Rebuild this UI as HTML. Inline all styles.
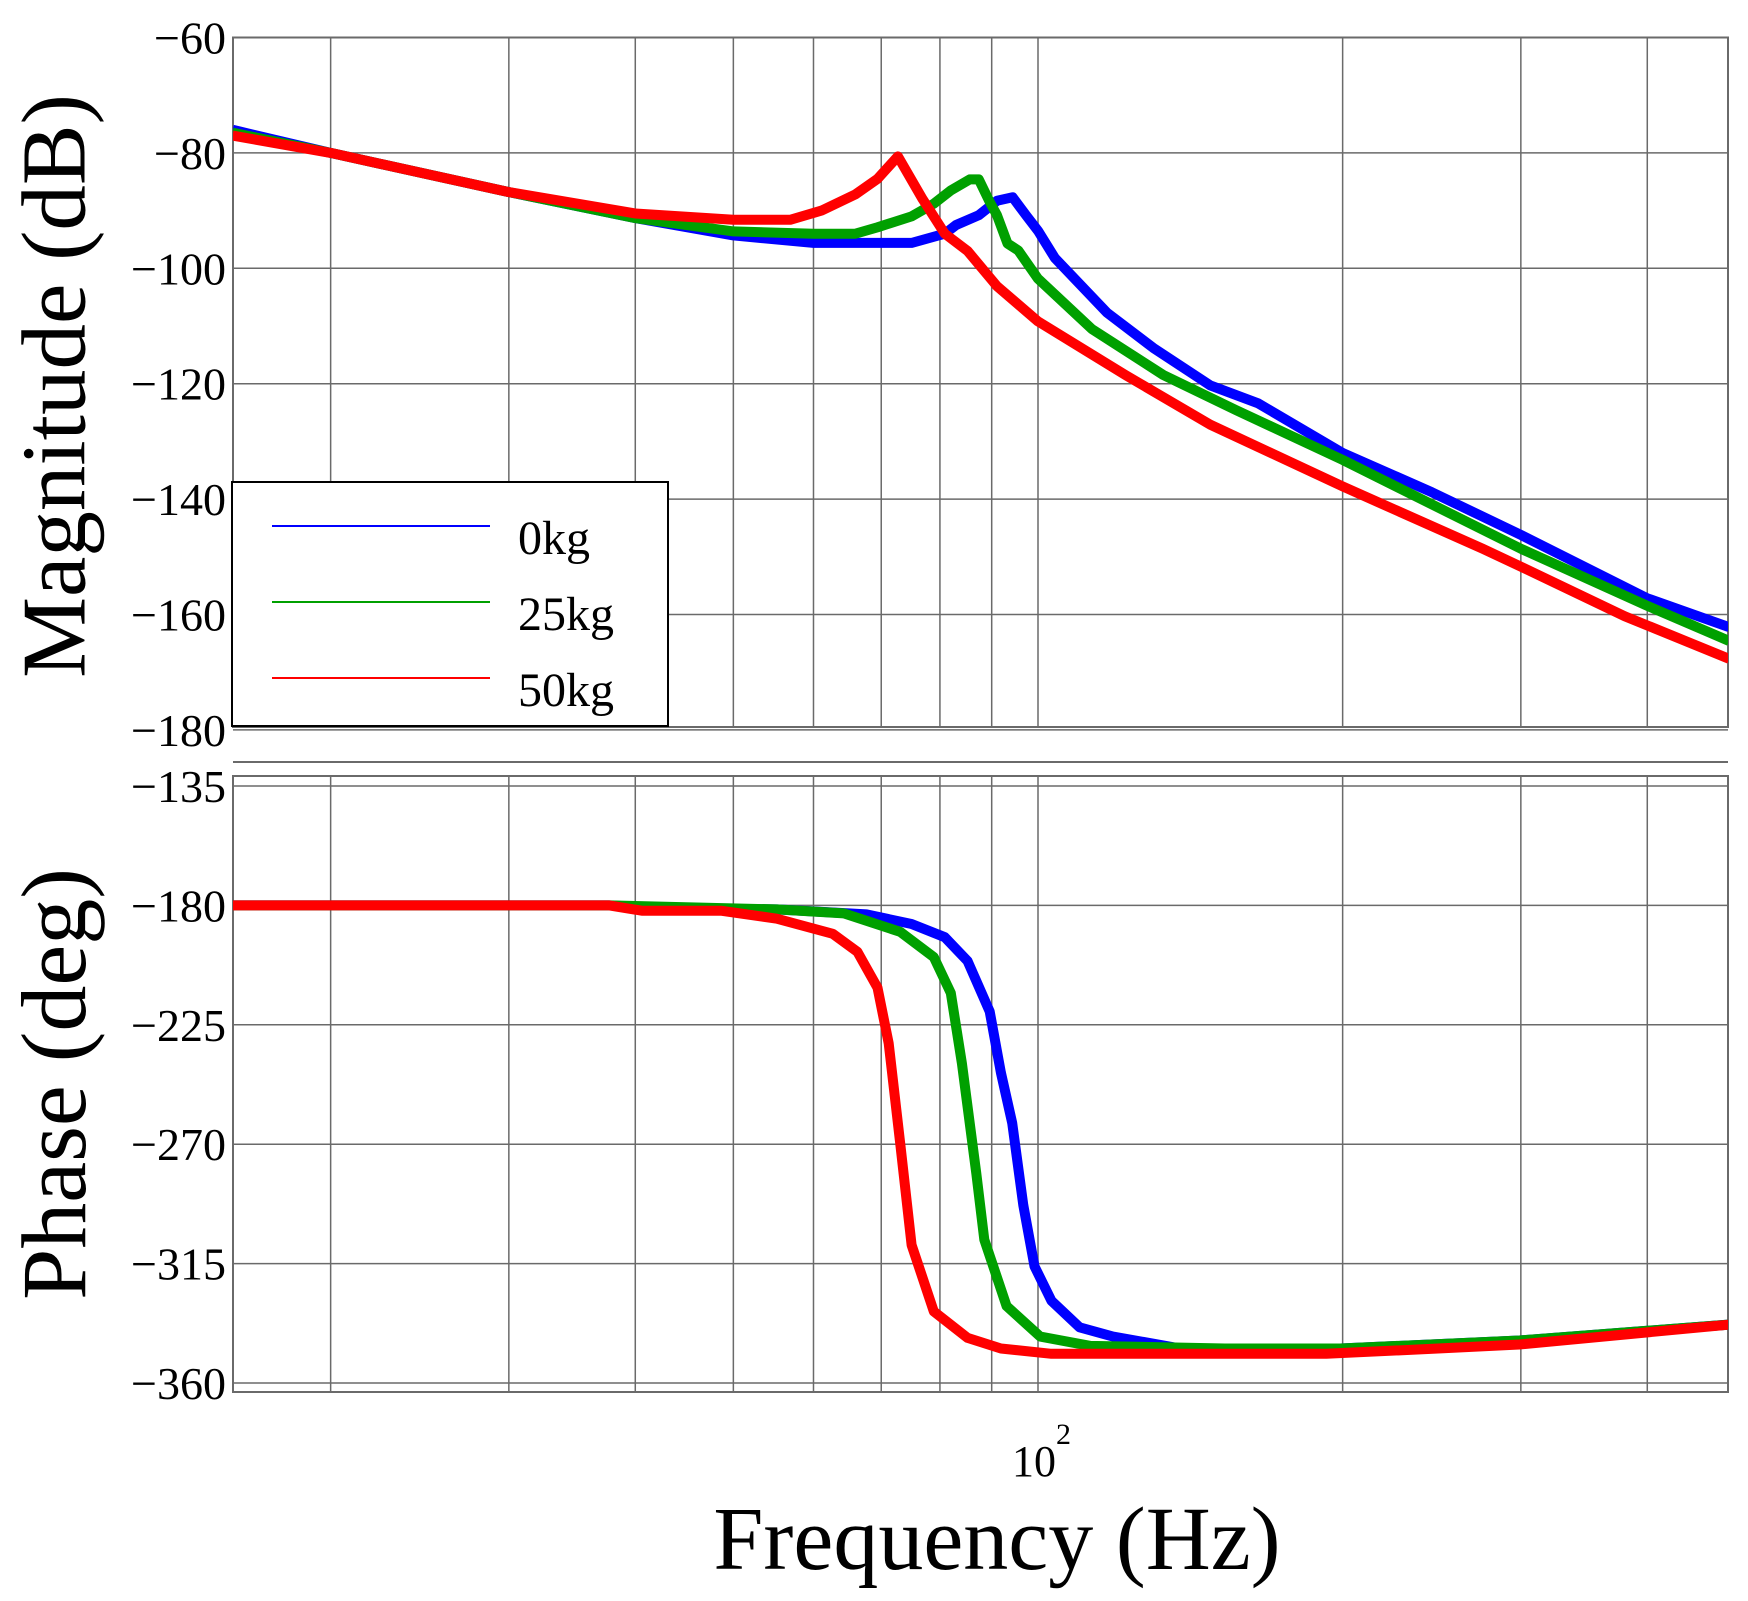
<!DOCTYPE html>
<html><head><meta charset="utf-8"><style>
html,body{margin:0;padding:0;background:#fff;}
svg{display:block;font-family:"Liberation Serif",serif;}
</style></head><body>
<svg id="chart" width="1748" height="1601" viewBox="0 0 1748 1601" xmlns="http://www.w3.org/2000/svg">
<g id="grid"></g><g id="series"></g><g id="labels"></g>
</svg>
<script>
const gridFreqs = [20,30,40,50,60,70,80,90,100,200,300,400];
const magTicks = [-60,-80,-100,-120,-140,-160,-180];
const phaseTicks = [-135,-180,-225,-270,-315,-360];
const seriesNames = ['0kg','25kg','50kg'];
const seriesColors = ['#0000ff','#00a000','#ff0000'];
// magnitude data
const magF0 = [16,20,30,40,50,60,66,70,75,80.9,83,87.4,91.1,94.4,97.3,100,103.9,117,130,148,165,200,245,300,400,482];
const magV0 = [-76,-80,-86.8,-91.3,-94.3,-95.6,-95.6,-95.6,-95.6,-94,-92.5,-90.8,-88.3,-87.7,-90.8,-93.5,-98.2,-107.7,-113.8,-120.3,-123.4,-132,-138.8,-146.2,-157.2,-162.2];
const magF1 = [16,20,30,40,50,60,66,69.4,75,78.9,82,85.6,87.4,89.6,91.1,93.3,95.6,100,113,133,157,200,300,400,482];
const magV1 = [-76.5,-80,-86.8,-91.3,-93.6,-94,-94,-92.9,-91,-88.8,-86.5,-84.6,-84.6,-88.5,-90.8,-95.7,-96.9,-101.8,-110.5,-118.5,-124.6,-133.2,-148.6,-158.5,-164.6];
const magF2 = [16,20,30,40,50,56.9,61.1,66,69.4,72.7,76.9,80.9,85.2,91.1,100,122,148,200,275,300,380,482];
const magV2 = [-77,-80,-86.8,-90.5,-91.6,-91.6,-90,-87.2,-84.5,-80.6,-88,-94,-97,-103.1,-109.2,-118.5,-127.1,-137.8,-148.6,-151.7,-160.3,-167.7];
// phase data
const phF0 = [16,37.7,42.8,55.2,67.7,75,80.9,85.2,89.6,91.9,94.3,96.7,99.2,103.1,109.9,118.6,138.3,199,299,482];
const phV0 = [-180,-180,-181,-181.5,-183.4,-187,-192,-201,-220,-243,-262,-293,-316,-329,-339,-342.5,-347,-347,-344,-338];
const phF1 = [16,37.7,55.2,64.3,73.1,78.9,82,84.1,86.9,88.5,93.1,100.5,112.7,153,199,299,482];
const phV1 = [-180,-180,-181.5,-183,-190,-199.5,-213,-239.5,-281,-306,-331,-342.5,-346,-347,-347,-344,-338];
const phF2 = [16,37.7,40.6,48.6,55.2,62.7,66.3,69.4,71.2,73.1,75,78.9,85.2,91.9,103.1,192.7,248.5,299,482];
const phV2 = [-180,-180,-182,-182,-185,-190.7,-197.5,-211,-232,-270,-308,-333,-343,-347,-349,-349,-347,-345.5,-338];

const NS='http://www.w3.org/2000/svg';
const X0=233, X1=1728;
const fx = f => 1038 + 1012*Math.log10(f/100);
const magY = v => 37.5 + (-60 - v)/20*115.4;
const phY = v => 786 + (-135 - v)/45*119.4;
function mk(tag, attrs, parent){const e=document.createElementNS(NS,tag);for(const k in attrs)e.setAttribute(k,attrs[k]);parent.appendChild(e);return e;}
const grid=document.getElementById('grid'), ser=document.getElementById('series'), lab=document.getElementById('labels');
const gc='#6a6a6a';
const panels=[{t:37.5,b:727,name:'magnitude'},{t:776,b:1392,name:'phase'}];
panels.forEach(p=>{
  gridFreqs.forEach(f=>{const l=mk('line',{x1:fx(f),x2:fx(f),y1:p.t,y2:p.b,stroke:gc,'stroke-width':1.5},grid);
    
    });
  const r=mk('rect',{x:X0,y:p.t,width:X1-X0,height:p.b-p.t,fill:'none',stroke:gc,'stroke-width':2},grid);
  
  
});
mk('line',{x1:X0,x2:X1,y1:762,y2:762,stroke:gc,'stroke-width':2},grid);
magTicks.forEach(v=>{
  const l=mk('line',{x1:X0,x2:X1,y1:magY(v),y2:magY(v),stroke:gc,'stroke-width':1.5},grid);
  
  
  const t=mk('text',{x:226,y:magY(v)+16,'text-anchor':'end','font-size':46},lab);
  t.textContent='\u2212'+Math.abs(v);
  
  
});
phaseTicks.forEach(v=>{
  const l=mk('line',{x1:X0,x2:X1,y1:phY(v),y2:phY(v),stroke:gc,'stroke-width':1.5},grid);
  
  
  const t=mk('text',{x:226,y:phY(v)+16,'text-anchor':'end','font-size':46},lab);
  t.textContent='\u2212'+Math.abs(v);
  
  
});
const clipM=mk('clipPath',{id:'cm'},ser); mk('rect',{x:X0,y:37.5,width:X1-X0,height:690},clipM);
const clipP=mk('clipPath',{id:'cp'},ser); mk('rect',{x:X0,y:776,width:X1-X0,height:616},clipP);
const magSets=[[magF0,magV0],[magF1,magV1],[magF2,magV2]];
const phSets=[[phF0,phV0],[phF1,phV1],[phF2,phV2]];
magSets.forEach((s,i)=>{
  const d=s[0].map((f,j)=>(j?'L':'M')+fx(f).toFixed(1)+' '+magY(s[1][j]).toFixed(1)).join(' ');
  const p=mk('path',{d:d,fill:'none',stroke:seriesColors[i],'stroke-width':10,'stroke-linejoin':'round','clip-path':'url(#cm)'},ser);
  
  
});
phSets.forEach((s,i)=>{
  const d=s[0].map((f,j)=>(j?'L':'M')+fx(f).toFixed(1)+' '+phY(s[1][j]).toFixed(1)).join(' ');
  const p=mk('path',{d:d,fill:'none',stroke:seriesColors[i],'stroke-width':10,'stroke-linejoin':'round','clip-path':'url(#cp)'},ser);
  
  
});
const lg=mk('g',{},lab);


mk('rect',{x:232,y:482,width:436,height:244,fill:'#fff',stroke:'#000','stroke-width':2},lg);
seriesNames.forEach((n,i)=>{
  const y=526+i*76;
  const l=mk('line',{x1:272,x2:490,y1:y,y2:y,stroke:seriesColors[i],'stroke-width':2},lg);
  
  
  const t=mk('text',{x:518,y:y+28,'font-size':48},lg);
  t.textContent=n;
  
  
});
</script>
<div style="position:absolute;left:0;top:0;width:1748px;height:1601px;pointer-events:none;font-family:'Liberation Serif',serif;">
<div style="position:absolute;left:54px;top:386px;transform:translate(-50%,-50%) rotate(-90deg);font-size:91px;white-space:nowrap;line-height:1;">Magnitude (dB)</div>
<div style="position:absolute;left:54px;top:1084px;transform:translate(-50%,-50%) rotate(-90deg);font-size:92px;white-space:nowrap;line-height:1;">Phase (deg)</div>
<div style="position:absolute;left:1012px;top:1440px;font-size:44px;line-height:1;">10<sup style="font-size:30px;position:relative;top:-20px;vertical-align:top;">2</sup></div>
<div style="position:absolute;left:997px;top:1540px;transform:translate(-50%,-50%);font-size:90px;white-space:nowrap;line-height:1;">Frequency (Hz)</div>
</div>
</body></html>
